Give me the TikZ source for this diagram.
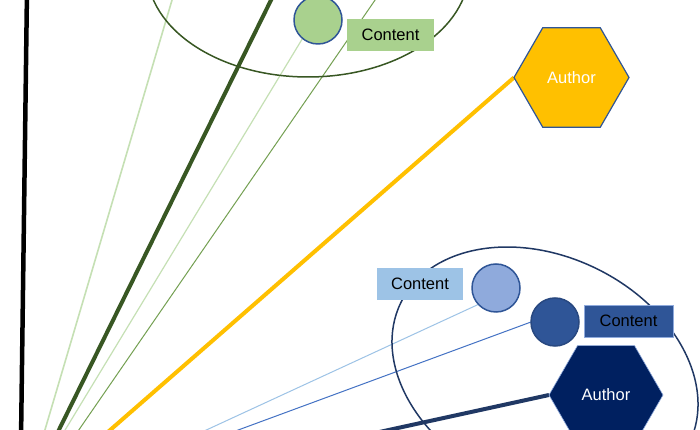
\documentclass[tikz,border=0pt]{standalone}
\usepackage{fontspec}
\setmainfont{Liberation Sans}
\usetikzlibrary{shapes.geometric}
\pgfdeclarelayer{background}
\pgfsetlayers{background,main}
\definecolor{dkgreen}{HTML}{385723}
\definecolor{ltgreen}{HTML}{C5E0B4}
\definecolor{mdgreen}{HTML}{A9D18E}
\definecolor{olive}{HTML}{74A052}
\definecolor{gold}{HTML}{FFC000}
\definecolor{bluepen}{HTML}{2F5597}
\definecolor{navyline}{HTML}{203864}
\definecolor{navy}{HTML}{002060}
\definecolor{ltblue}{HTML}{9DC3E6}
\definecolor{lavblue}{HTML}{8FAADC}
\definecolor{midblue}{HTML}{4472C4}
\tikzset{
  dot/.style={circle, minimum size=48pt, inner sep=0pt, outer sep=0pt, line width=1.5pt, draw=bluepen},
  tagbox/.style={rectangle, minimum height=32pt, inner sep=0pt, outer sep=0pt, font=\fontsize{16.5}{19}\selectfont, text=black},
  hexa/.style={regular polygon, regular polygon sides=6, inner sep=0pt, outer sep=0pt, font=\fontsize{16.5}{19}\selectfont, text=white},
  ring/.style={line width=1.5pt}
}
\begin{document}
\begin{tikzpicture}[x=1pt,y=1pt]
\useasboundingbox (0,0) rectangle (700,430);
\clip (0,0) rectangle (700,430);
% far ends
\coordinate (bkT) at (27,440);
\coordinate (bkB) at (21,-10);
\coordinate (lgT) at (175,440);
\coordinate (lgB) at (39,-20);
\coordinate (dgT) at (276,440);
\coordinate (dgB) at (49,-20);
\coordinate (lg2B) at (53,-20);
\coordinate (olT) at (382,440);
\coordinate (olB) at (65,-20);
\coordinate (yB) at (85,-22);
\coordinate (lbB) at (163,-20);
\coordinate (mbB) at (184,-20);
\coordinate (nvB) at (297,-20);
% nodes
\node[dot, fill=mdgreen] (cG) at (318,410) {};
\node[tagbox, fill=mdgreen, minimum width=87pt] (tG) at (390.5,395) {Content};
\node[hexa, fill=gold, draw=bluepen, line width=1.2pt, minimum size=115pt] (hY) at (571.5,352.5) {Author};
\node[dot, fill=lavblue] (cLB) at (496,142) {};
\node[tagbox, fill=ltblue, minimum width=86pt] (tLB) at (420,146) {Content};
\node[dot, fill=bluepen, draw=bluepen!85!black] (cDB) at (555,108) {};
\node[tagbox, fill=bluepen, draw=lavblue, line width=0.6pt, minimum width=89pt] (tDB) at (628.5,109) {Content};
\node[hexa, fill=navy, draw=lavblue, line width=0.6pt, minimum size=114pt] (hN) at (606,35) {Author};
% connectors and rings, behind the nodes
\begin{pgfonlayer}{background}
\fill[white] (0,0) rectangle (700,430);
\draw[black, line width=4.5pt] (bkT) -- (bkB);
\draw[ltgreen, line width=1.6pt] (lgT) -- (lgB);
\draw[dkgreen, line width=4pt] (dgT) -- (dgB);
\draw[ltgreen, line width=1.2pt] (cG.230) -- (lg2B);
\draw[olive, line width=1pt] (olT) -- (olB);
\draw[gold, line width=4pt] (hY.180) -- (yB);
\draw[ltblue, line width=1pt] (cLB.223) -- (lbB);
\draw[midblue, line width=1pt] (cDB.180) -- (mbB);
\draw[navyline, line width=4pt] (hN.180) -- (nvB);
\draw[dkgreen, ring] (308,460) ellipse [x radius=161, y radius=107];
\draw[navyline, ring] (545,57) ellipse [x radius=160.4, y radius=116.4, rotate=-25.9];
\end{pgfonlayer}
\end{tikzpicture}
\end{document}
